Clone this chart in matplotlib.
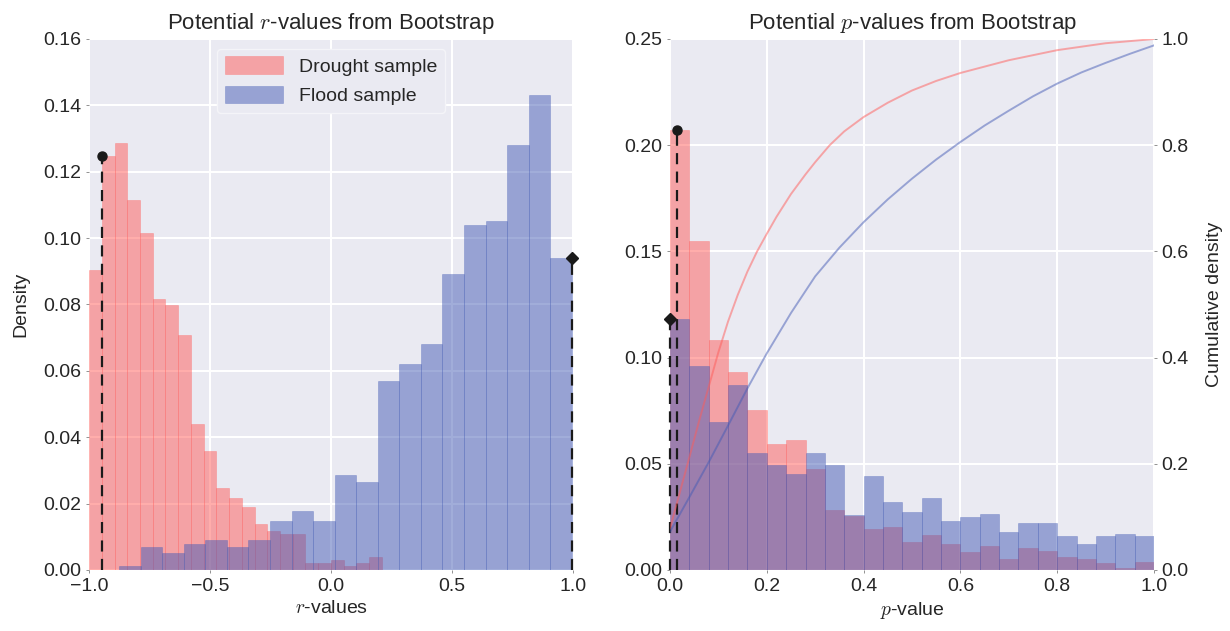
import numpy as np
import matplotlib.pyplot as plt

plt.rcParams['font.family'] = ['Liberation Sans', 'DejaVu Sans']
plt.rcParams['mathtext.fontset'] = 'cm'
plt.rcParams['text.color'] = '.15'
plt.rcParams['axes.labelcolor'] = '.15'
plt.rcParams['xtick.color'] = '.15'
plt.rcParams['ytick.color'] = '.15'

RED = (1.0, 0.36, 0.35)
BLUE = (0.27, 0.36, 0.71)
ALPHA = 0.5

# r-value histograms (fraction of bootstrap samples per bin)
drought_r_edges = np.linspace(-1.0, 0.21, 24)
drought_r = [0.0905, 0.1247, 0.1287, 0.1116, 0.1016, 0.0816, 0.0797, 0.0707,
             0.0439, 0.0358, 0.0247, 0.0218, 0.0189, 0.0139, 0.0118, 0.0109,
             0.0109, 0.002, 0.002, 0.003, 0.0012, 0.002, 0.004]
flood_r_edges = np.linspace(-0.876, 0.995, 22)
flood_r = [0.0011, 0.007, 0.005, 0.0079, 0.0089, 0.007, 0.0091, 0.0149,
           0.0178, 0.0149, 0.0287, 0.0266, 0.0568, 0.0621, 0.068, 0.0891,
           0.104, 0.1051, 0.128, 0.143, 0.094]

# p-value histograms
p_edges = np.linspace(0.0, 1.0, 26)
drought_p = [0.2071, 0.1551, 0.1081, 0.0931, 0.0752, 0.0592, 0.0610, 0.0474,
             0.0282, 0.0254, 0.0191, 0.0201, 0.0132, 0.0163, 0.0121, 0.0083,
             0.0111, 0.0050, 0.0102, 0.0089, 0.0060, 0.0050, 0.0031, 0.0009,
             0.0039]
flood_p = [0.1180, 0.0960, 0.0696, 0.0870, 0.0552, 0.0493, 0.0454, 0.0552,
           0.0493, 0.0261, 0.0441, 0.0322, 0.0272, 0.0341, 0.0231, 0.0251,
           0.0262, 0.0180, 0.0221, 0.0221, 0.0162, 0.0121, 0.0162, 0.0171,
           0.0162]

# cumulative density curves
drought_cdf_p = [0.0, 0.02, 0.04, 0.06, 0.08, 0.10, 0.12, 0.14, 0.16, 0.18,
                 0.20, 0.22, 0.25, 0.28, 0.30, 0.33, 0.36, 0.40, 0.45, 0.50,
                 0.55, 0.60, 0.70, 0.80, 0.90, 1.0]
drought_cdf = [0.078, 0.145, 0.212, 0.28, 0.345, 0.41, 0.468, 0.518, 0.562,
               0.60, 0.633, 0.665, 0.708, 0.745, 0.768, 0.8, 0.826, 0.853,
               0.88, 0.903, 0.921, 0.936, 0.96, 0.979, 0.992, 1.0]
flood_cdf_p = [0.0, 0.04, 0.08, 0.12, 0.16, 0.20, 0.25, 0.30, 0.35, 0.40,
               0.45, 0.50, 0.55, 0.60, 0.65, 0.70, 0.75, 0.80, 0.85, 0.90,
               0.95, 1.0]
flood_cdf = [0.072, 0.137, 0.203, 0.272, 0.342, 0.408, 0.484, 0.553, 0.607,
             0.655, 0.698, 0.737, 0.773, 0.806, 0.837, 0.865, 0.892, 0.916,
             0.937, 0.955, 0.972, 0.988]

# observed values of the original samples
obs_r = {'drought': -0.946, 'flood': 0.995}
obs_p = {'drought': 0.014, 'flood': 0.0005}


def bin_height(edges, heights, x):
    i = np.clip(np.searchsorted(edges, x, side='right') - 1, 0, len(heights) - 1)
    return heights[i]


def style(ax):
    ax.set_facecolor('#EAEAF2')
    for s in ax.spines.values():
        s.set_visible(False)
    ax.grid(True, color='white', lw=1.5)
    ax.set_axisbelow(True)
    ax.tick_params(labelsize=14, length=2, width=0.6, color='.5')


def hist(ax, edges, heights, color, label):
    ax.bar(edges[:-1], heights, width=np.diff(edges), align='edge',
           color=color, alpha=ALPHA, edgecolor=color, linewidth=0.4,
           label=label)


def mark(ax, x, h, marker, ms):
    ax.plot([x, x], [0, h], color='.1', lw=1.6, ls=(0, (5, 3.3)),
            clip_on=False, zorder=4)
    ax.plot(x, h, marker=marker, color='.1', ms=ms, clip_on=False, zorder=5)


fig = plt.figure(figsize=(12.3, 6.31), dpi=100)
ax_r = fig.add_axes([0.0724, 0.0967, 0.3935, 0.8415])
ax_p = fig.add_axes([0.5447, 0.0967, 0.3935, 0.8415])

# left: r-values
style(ax_r)
hist(ax_r, drought_r_edges, drought_r, RED, 'Drought sample')
hist(ax_r, flood_r_edges, flood_r, BLUE, 'Flood sample')
mark(ax_r, obs_r['drought'], bin_height(drought_r_edges, drought_r, obs_r['drought']), 'o', 6.5)
mark(ax_r, obs_r['flood'], bin_height(flood_r_edges, flood_r, obs_r['flood']), 'D', 6)
ax_r.set_xlim(-1, 1)
ax_r.set_ylim(0, 0.16)
ax_r.set_xticks([-1.0, -0.5, 0.0, 0.5, 1.0])
ax_r.set_yticks(np.arange(0, 0.161, 0.02))
ax_r.yaxis.set_major_formatter(plt.FormatStrFormatter('%.2f'))
ax_r.set_title('Potential $r$-values from Bootstrap', fontsize=16, pad=7)
ax_r.set_xlabel('$r$-values', fontsize=14)
ax_r.set_ylabel('Density', fontsize=14, labelpad=10)
ax_r.legend(loc='upper center', fontsize=14, frameon=True,
            facecolor='#EAEAF2', edgecolor='#F4F4F8', framealpha=1,
            handlelength=3, handleheight=1.0)

# right: p-values
style(ax_p)
hist(ax_p, p_edges, drought_p, RED, 'Drought sample')
hist(ax_p, p_edges, flood_p, BLUE, 'Flood sample')
mark(ax_p, obs_p['drought'], bin_height(p_edges, drought_p, obs_p['drought']), 'o', 6.5)
mark(ax_p, obs_p['flood'], bin_height(p_edges, flood_p, obs_p['flood']), 'D', 6)
ax_p.set_xlim(0, 1)
ax_p.set_ylim(0, 0.25)
ax_p.set_yticks(np.arange(0, 0.251, 0.05))
ax_p.yaxis.set_major_formatter(plt.FormatStrFormatter('%.2f'))
ax_p.set_title('Potential $p$-values from Bootstrap', fontsize=16, pad=7)
ax_p.set_xlabel('$p$-value', fontsize=14)

ax_c = ax_p.twinx()
for s in ax_c.spines.values():
    s.set_visible(False)
ax_c.plot(drought_cdf_p, drought_cdf, color=RED, alpha=ALPHA, lw=1.4)
ax_c.plot(flood_cdf_p, flood_cdf, color=BLUE, alpha=ALPHA, lw=1.4)
ax_c.set_ylim(0, 1)
ax_c.set_yticks(np.arange(0, 1.01, 0.2))
ax_c.yaxis.set_major_formatter(plt.FormatStrFormatter('%.1f'))
ax_c.tick_params(labelsize=14, length=2, width=0.6, color='.5')
ax_c.grid(False)
ax_c.set_ylabel('Cumulative density', fontsize=14, labelpad=12)

fig.savefig('out.png', dpi=100)
